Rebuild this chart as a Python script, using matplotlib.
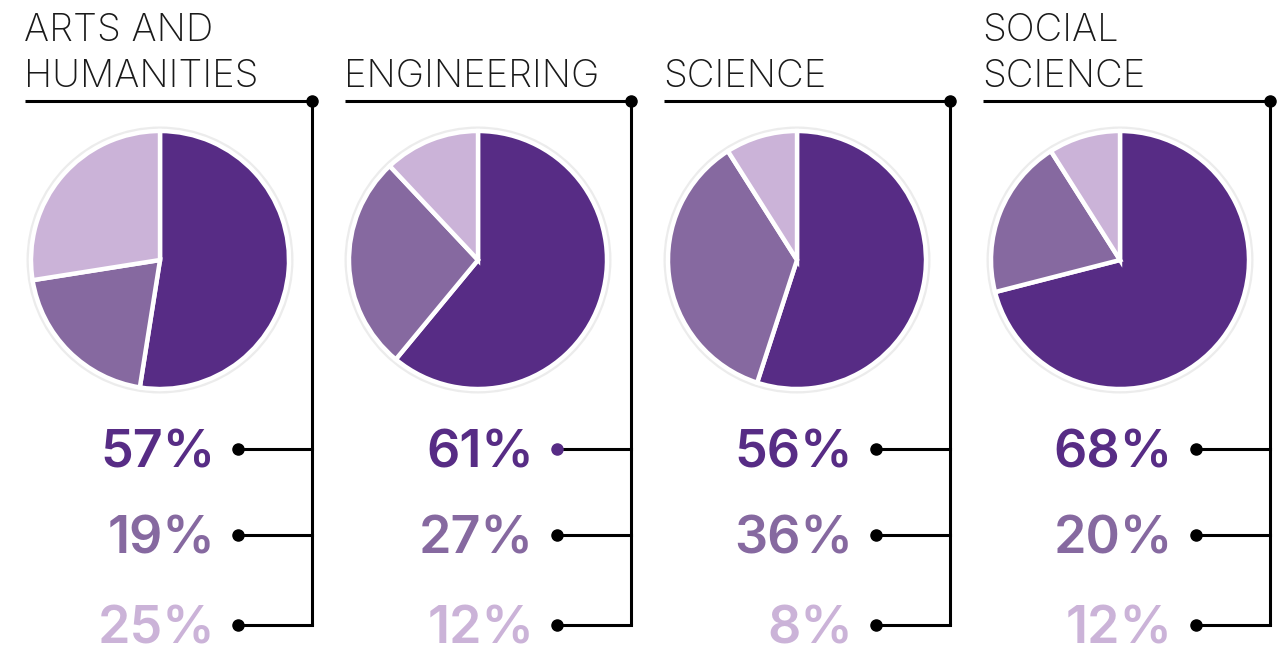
import matplotlib.pyplot as plt
from matplotlib.patches import Circle

# data
subjects = ["ARTS AND\nHUMANITIES", "ENGINEERING", "SCIENCE", "SOCIAL\nSCIENCE"]
# printed percentages
share_a = [57, 61, 56, 68]
share_b = [19, 27, 36, 20]
share_c = [25, 12, 8, 12]
# slice sizes as drawn in the pies
pie_a = [52.5, 61, 55, 71]
pie_b = [20, 27, 36, 20]
pie_c = [27.5, 12, 9, 9]

colors = ["#572c85", "#8669a0", "#cbb3d8"]
W, H = 1283, 646

fig = plt.figure(figsize=(W / 100, H / 100), dpi=100, facecolor="white")
ax = fig.add_axes([0, 0, 1, 1])


def Y(py):
    return H - py


pie_cx = [160, 478, 797, 1120]
left = [25, 345, 664, 983]
vline = [312, 631, 950, 1270]
rows = [449, 535, 625]

for i, name in enumerate(subjects):
    vals = [share_a[i], share_b[i], share_c[i]]
    slices = [pie_a[i], pie_b[i], pie_c[i]]
    # grey ring behind the pie
    ax.add_patch(Circle((pie_cx[i], Y(260)), 133.5, facecolor="#ececec",
                        edgecolor="none", zorder=1))
    ax.pie(slices, colors=colors, startangle=90, counterclock=False,
           center=(pie_cx[i], Y(260)), radius=129,
           wedgeprops=dict(edgecolor="white", linewidth=3.2), frame=True)

    # title
    ax.text(left[i] - 1, Y(87), name, ha="left", va="baseline", fontsize=27.5,
            family="Inter", fontweight="light", color="#1a1a1a",
            linespacing=1.34)

    # top line + vertical line
    ax.plot([left[i], vline[i]], [Y(101), Y(101)], color="black", lw=2.2,
            solid_capstyle="butt", zorder=3)
    ax.plot([vline[i], vline[i]], [Y(101), Y(625)], color="black", lw=2.2,
            solid_capstyle="butt", zorder=3)
    ax.plot(vline[i], Y(101), "o", color="black", ms=8, zorder=4)

    # percentages with connectors
    dot_x = vline[i] - 74
    for j, v in enumerate(vals):
        ax.plot([dot_x, vline[i]], [Y(rows[j]), Y(rows[j])], color="black",
                lw=2.2, zorder=3)
        dot_col = colors[0] if (i == 1 and j == 0) else "black"
        ax.plot(dot_x, Y(rows[j]), "o", color=dot_col, ms=8, zorder=4)
        ax.text(dot_x - 23, Y(rows[j] + 18), f"{v}%", ha="right",
                va="baseline", fontsize=37.5, family="Inter",
                fontweight="semibold", color=colors[j])

ax.set_xlim(0, W)
ax.set_ylim(0, H)
ax.set_aspect("auto")
ax.axis("off")
fig.savefig("out.png", dpi=100, facecolor="white")
